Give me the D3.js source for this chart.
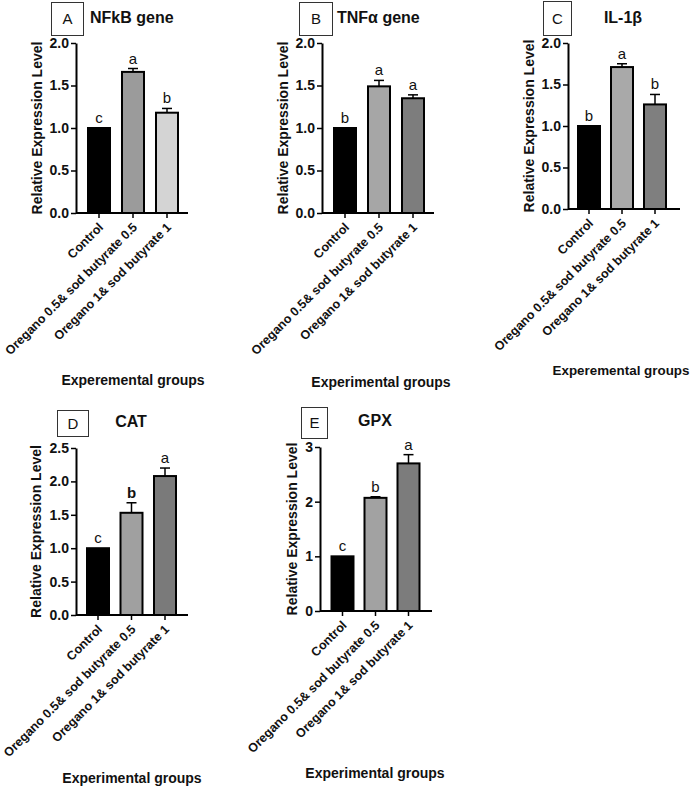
<!DOCTYPE html>
<html>
<head>
<meta charset="utf-8">
<script src="https://cdn.jsdelivr.net/npm/d3@7"></script>
<style>
  html, body { margin: 0; padding: 0; background: #fff; }
  svg { display: block; font-family: "Liberation Sans", Arial, sans-serif; }
</style>
</head>
<body>
<svg id="chart" width="692" height="800"></svg>
<script>
// ---------- data ----------
const categories = ["Control", "Oregano 0.5& sod butyrate 0.5", "Oregano 1& sod butyrate 1"];

const nfkbMeans = [1.00, 1.66, 1.18];
const nfkbErrors = [0.00, 0.04, 0.05];
const nfkbLetters = ["c", "a", "b"];

const tnfMeans = [1.00, 1.49, 1.35];
const tnfErrors = [0.00, 0.07, 0.04];
const tnfLetters = ["b", "a", "a"];

const il1Means = [1.00, 1.71, 1.26];
const il1Errors = [0.00, 0.04, 0.12];
const il1Letters = ["b", "a", "b"];

const catMeans = [1.00, 1.53, 2.08];
const catErrors = [0.00, 0.15, 0.12];
const catLetters = ["c", "b", "a"];

const gpxMeans = [1.00, 2.07, 2.70];
const gpxErrors = [0.00, 0.02, 0.16];
const gpxLetters = ["c", "b", "a"];

const ticks2 = [0.0, 0.5, 1.0, 1.5, 2.0];
const ticks25 = [0.0, 0.5, 1.0, 1.5, 2.0, 2.5];
const ticks3 = [0, 1, 2, 3];

const panelLetters = ["A", "B", "C", "D", "E"];
const panelTitles = ["NFkB gene", "TNFα gene", "IL-1β", "CAT", "GPX"];
const xTitles = ["Experemental groups", "Experimental groups", "Experemental groups", "Experimental groups", "Experimental groups"];
const yTitle = "Relative Expression Level";

// ---------- layout / style ----------
const panels = [
  { means: nfkbMeans, errs: nfkbErrors, letters: nfkbLetters, ticks: ticks2, fmt: ".1f", max: 2.0,
    ax: 76, top: 43, bottom: 213, step: 34, first: 23, colors: ["#000000", "#9b9b9b", "#d4d4d4"],
    box: [51, 2, 32, 33], titleX: 90, titleY: 23, titleAnchor: "start", yLabX: 42, xTitleX: 133, xTitleY: 385, xTitleSize: 14, boldLetters: [] },
  { means: tnfMeans, errs: tnfErrors, letters: tnfLetters, ticks: ticks2, fmt: ".1f", max: 2.0,
    ax: 322, top: 43, bottom: 213, step: 34, first: 23, colors: ["#000000", "#a6a6a6", "#7d7d7d"],
    box: [299, 2, 33, 33], titleX: 337, titleY: 23, titleAnchor: "start", yLabX: 288, xTitleX: 381, xTitleY: 387, xTitleSize: 14, boldLetters: [] },
  { means: il1Means, errs: il1Errors, letters: il1Letters, ticks: ticks2, fmt: ".1f", max: 2.0,
    ax: 568, top: 43, bottom: 209, step: 33, first: 21, colors: ["#000000", "#a9a9a9", "#7f7f7f"],
    box: [543, 1, 28, 34], titleX: 623, titleY: 23, titleAnchor: "middle", yLabX: 534, xTitleX: 621, xTitleY: 375, xTitleSize: 13.4, boldLetters: [] },
  { means: catMeans, errs: catErrors, letters: catLetters, ticks: ticks25, fmt: ".1f", max: 2.5,
    ax: 76, top: 448, bottom: 615, step: 33.5, first: 22, colors: ["#000000", "#a0a0a0", "#7a7a7a"],
    box: [57, 410, 31, 26], titleX: 131, titleY: 427, titleAnchor: "middle", yLabX: 41, xTitleX: 132, xTitleY: 783, xTitleSize: 14, boldLetters: [1] },
  { means: gpxMeans, errs: gpxErrors, letters: gpxLetters, ticks: ticks3, fmt: "d", max: 3,
    ax: 320, top: 447, bottom: 611, step: 33, first: 22.5, colors: ["#000000", "#a2a2a2", "#7c7c7c"],
    box: [301, 407, 26, 31], titleX: 375, titleY: 426, titleAnchor: "middle", yLabX: 297, xTitleX: 375, xTitleY: 778, xTitleSize: 14, boldLetters: [] }
];

const svg = d3.select("#chart");

panels.forEach((p, i) => {
  const g = svg.append("g");
  const bw = 22;
  const r0 = p.ax + p.first - p.step / 2;
  const x = d3.scaleBand().domain(categories)
    .range([r0, r0 + 3 * p.step]).paddingInner((p.step - bw) / p.step).paddingOuter((p.step - bw) / (2 * p.step));
  const y = d3.scaleLinear().domain([0, p.max]).range([p.bottom, p.top]);
  const axisEnd = p.ax + 112;

  // bars
  g.selectAll("rect.bar").data(categories).join("rect")
    .attr("class", "bar")
    .attr("x", d => x(d))
    .attr("width", x.bandwidth())
    .attr("y", (d, j) => y(p.means[j]))
    .attr("height", (d, j) => y(0) - y(p.means[j]))
    .attr("fill", (d, j) => p.colors[j])
    .attr("stroke", "#000")
    .attr("stroke-width", 2);

  // error bars (upper only)
  categories.forEach((c, j) => {
    if (p.errs[j] <= 0) return;
    const cx = x(c) + x.bandwidth() / 2;
    g.append("line").attr("x1", cx).attr("x2", cx)
      .attr("y1", y(p.means[j])).attr("y2", y(p.means[j] + p.errs[j]))
      .attr("stroke", "#000").attr("stroke-width", 1.5);
    g.append("line").attr("x1", cx - 5).attr("x2", cx + 5)
      .attr("y1", y(p.means[j] + p.errs[j])).attr("y2", y(p.means[j] + p.errs[j]))
      .attr("stroke", "#000").attr("stroke-width", 1.5);
  });

  // significance letters
  g.selectAll("text.sig").data(categories).join("text")
    .attr("class", "sig")
    .attr("x", d => x(d) + x.bandwidth() / 2)
    .attr("y", (d, j) => y(p.means[j] + p.errs[j]) - 5)
    .attr("text-anchor", "middle")
    .attr("font-size", 15)
    .attr("font-weight", (d, j) => p.boldLetters.includes(j) ? "bold" : "normal")
    .attr("fill", "#111")
    .text((d, j) => p.letters[j]);

  // y axis
  const yAxis = g.append("g").attr("transform", `translate(${p.ax},0)`)
    .call(d3.axisLeft(y).tickValues(p.ticks).tickFormat(d3.format(p.fmt)).tickSize(5).tickSizeOuter(0).tickPadding(2));
  yAxis.select(".domain").attr("stroke-width", 2);
  yAxis.selectAll(".tick line").attr("stroke-width", 1.5);
  yAxis.selectAll(".tick text").attr("font-size", 14).attr("font-weight", "bold")
    .attr("font-family", "'Liberation Sans', Arial, sans-serif").attr("fill", "#111");

  // x axis
  const xAxis = g.append("g").attr("transform", `translate(0,${p.bottom})`)
    .call(d3.axisBottom(x).tickSize(5).tickSizeOuter(0));
  xAxis.select(".domain").attr("d", `M${p.ax},0H${axisEnd}`).attr("stroke-width", 2);
  xAxis.selectAll(".tick line").attr("stroke-width", 1.5);
  xAxis.selectAll(".tick text")
    .attr("font-size", 12.5).attr("font-weight", "bold")
    .attr("font-family", "'Liberation Sans', Arial, sans-serif").attr("fill", "#111")
    .attr("text-anchor", "end")
    .attr("dy", null).attr("y", null)
    .attr("transform", "translate(5,15) rotate(-45)");

  // y title
  g.append("text")
    .attr("transform", `translate(${p.yLabX},${(p.top + p.bottom) / 2}) rotate(-90)`)
    .attr("text-anchor", "middle")
    .attr("font-size", 14).attr("font-weight", "bold").attr("fill", "#111")
    .text(yTitle);

  // x title
  g.append("text")
    .attr("x", p.xTitleX).attr("y", p.xTitleY)
    .attr("text-anchor", "middle")
    .attr("font-size", p.xTitleSize).attr("font-weight", "bold").attr("fill", "#111")
    .text(xTitles[i]);

  // panel letter box
  g.append("rect")
    .attr("x", p.box[0] + 0.5).attr("y", p.box[1] + 0.5)
    .attr("width", p.box[2]).attr("height", p.box[3])
    .attr("fill", "#fff").attr("stroke", "#333").attr("stroke-width", 1);
  g.append("text")
    .attr("x", p.box[0] + p.box[2] / 2 + 0.5).attr("y", p.box[1] + p.box[3] / 2 + 5.5)
    .attr("text-anchor", "middle").attr("font-size", 15).attr("fill", "#111")
    .text(panelLetters[i]);

  // panel title
  g.append("text")
    .attr("x", p.titleX).attr("y", p.titleY)
    .attr("text-anchor", p.titleAnchor)
    .attr("font-size", 16).attr("font-weight", "bold").attr("fill", "#111")
    .text(panelTitles[i]);
});
</script>
</body>
</html>
